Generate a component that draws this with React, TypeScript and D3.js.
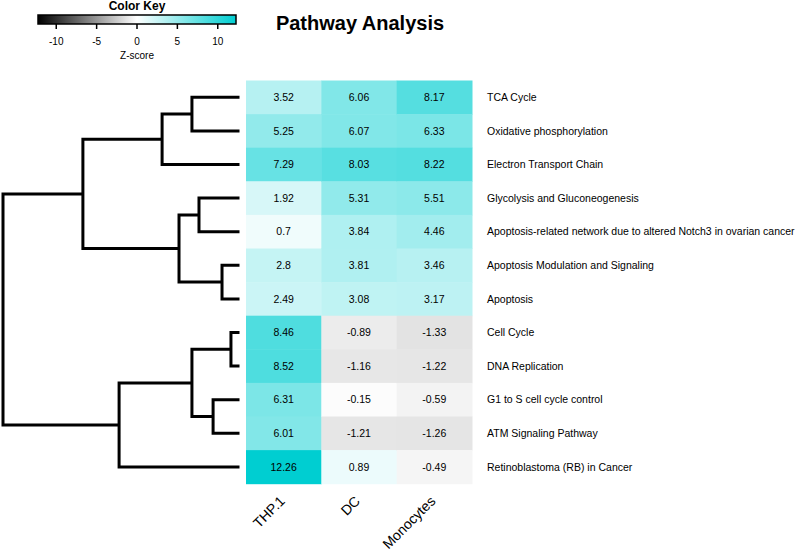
import React from "react";
import * as d3 from "d3";

const pathways = [
  "TCA Cycle",
  "Oxidative phosphorylation",
  "Electron Transport Chain",
  "Glycolysis and Gluconeogenesis",
  "Apoptosis-related network due to altered Notch3 in ovarian cancer",
  "Apoptosis Modulation and Signaling",
  "Apoptosis",
  "Cell Cycle",
  "DNA Replication",
  "G1 to S cell cycle control",
  "ATM Signaling Pathway",
  "Retinoblastoma (RB) in Cancer",
];
const samples = ["THP.1", "DC", "Monocytes"];
const thp1 = [3.52, 5.25, 7.29, 1.92, 0.7, 2.8, 2.49, 8.46, 8.52, 6.31, 6.01, 12.26];
const dc = [6.06, 6.07, 8.03, 5.31, 3.84, 3.81, 3.08, -0.89, -1.16, -0.15, -1.21, 0.89];
const monocytes = [8.17, 6.33, 8.22, 5.51, 4.46, 3.46, 3.17, -1.33, -1.22, -0.59, -1.26, -0.49];
const keyTicks = [-10, -5, 0, 5, 10];

// dendrogram: merges with heights
type Node = { leaf?: number; children?: Node[]; height: number };
const L = (i: number): Node => ({ leaf: i, height: 0 });
const M = (a: Node, b: Node, h: number): Node => ({ children: [a, b], height: h });
const tree: Node = M(
  M(M(M(L(0), L(1), 1.96), L(2), 3.23), M(M(L(3), L(4), 1.66), M(L(5), L(6), 0.68), 2.51), 6.6),
  M(M(M(L(7), L(8), 0.3), M(L(9), L(10), 1.06), 1.96), L(11), 5.06),
  10
);

export default function App() {
  const W = 800, H = 554;
  const cols = [thp1, dc, monocytes];
  const x = d3.scaleBand<string>().domain(samples).range([246, 472]);
  const y = d3.scaleBand<string>().domain(pathways).range([80.5, 483.7]);
  const zmax = 12.26;
  const color = d3.scaleLinear<string>().domain([-zmax, 0, zmax]).range(["#000000", "#ffffff", "#00ced1"]).interpolate(d3.interpolateRgb);
  const dx = d3.scaleLinear().domain([0, 10]).range([238, 3]);
  const keyX = d3.scaleLinear().domain([-zmax, zmax]).range([38, 236]);

  const segs: string[] = [];
  const pos = (n: Node): number => {
    if (n.leaf !== undefined) return y(pathways[n.leaf])! + y.bandwidth() / 2;
    const ys = n.children!.map(pos);
    const hx = dx(n.height);
    n.children!.forEach((c, k) => {
      segs.push(`M${hx},${ys[k]}H${dx(c.height)}`);
    });
    segs.push(`M${hx},${ys[0]}V${ys[1]}`);
    return (ys[0] + ys[1]) / 2;
  };
  pos(tree);

  const gradStops = d3.range(0, 1.0001, 0.05);

  return (
    <svg width={W} height={H} style={{ position: "absolute", left: 0, top: 0 }} fontFamily="Liberation Sans, Arial, sans-serif">
      <rect width={W} height={H} fill="#fff" />
      <defs>
        <linearGradient id="kg" x1="0" x2="1" y1="0" y2="0">
          {gradStops.map((t) => (
            <stop key={t} offset={t} stopColor={color(-zmax + t * 2 * zmax)} />
          ))}
        </linearGradient>
      </defs>
      {/* color key */}
      <text x={137} y={10} textAnchor="middle" fontSize={12} fontWeight="bold">Color Key</text>
      <rect x={keyX(-zmax)} y={15} width={keyX(zmax) - keyX(-zmax)} height={9} fill="url(#kg)" stroke="#000" strokeWidth={1.5} />
      {keyTicks.map((t) => (
        <g key={t}>
          <line x1={keyX(t)} x2={keyX(t)} y1={24} y2={29} stroke="#000" strokeWidth={1.5} />
          <text x={keyX(t)} y={45} textAnchor="middle" fontSize={10}>{t}</text>
        </g>
      ))}
      <text x={137} y={59} textAnchor="middle" fontSize={10}>Z-score</text>

      <text x={360} y={30} textAnchor="middle" fontSize={20} fontWeight="bold">Pathway Analysis</text>

      {/* heatmap */}
      {cols.map((vals, ci) =>
        vals.map((v, ri) => (
          <g key={`${ci}-${ri}`}>
            <rect x={x(samples[ci])!} y={y(pathways[ri])!} width={x.bandwidth() + 0.5} height={y.bandwidth() + 0.5} fill={color(v)} />
            <text x={x(samples[ci])! + x.bandwidth() / 2} y={y(pathways[ri])! + y.bandwidth() / 2} dy="0.35em" textAnchor="middle" fontSize={10.5}>{String(v)}</text>
          </g>
        ))
      )}
      {pathways.map((p) => (
        <text key={p} x={487} y={y(p)! + y.bandwidth() / 2} dy="0.35em" fontSize={10.5}>{p}</text>
      ))}
      {samples.map((s) => {
        const cx = x(s)! + x.bandwidth() / 2 + 2;
        const cy = 502;
        return (
          <text key={s} transform={`translate(${cx},${cy}) rotate(-45)`} textAnchor="end" fontSize={14}>{s}</text>
        );
      })}

      {/* dendrogram */}
      <path d={segs.join("")} fill="none" stroke="#000" strokeWidth={3} strokeLinecap="square" />
    </svg>
  );
}
